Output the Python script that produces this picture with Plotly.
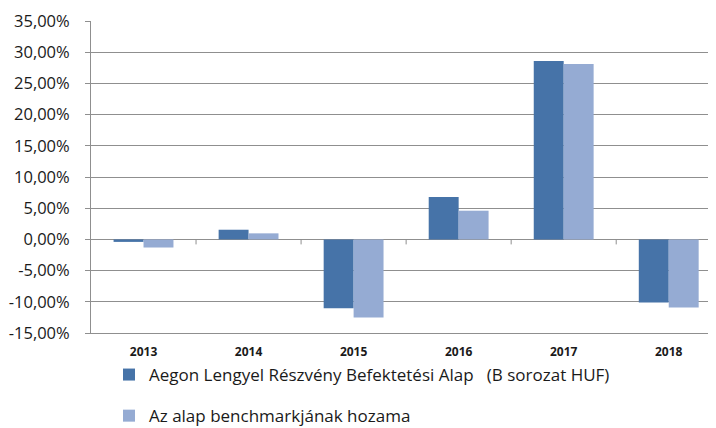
import plotly.graph_objects as go

years = ["2013", "2014", "2015", "2016", "2017", "2018"]
fund_name = "Aegon Lengyel Részvény Befektetési Alap\u00a0\u00a0\u00a0(B sorozat HUF)"
bench_name = "Az alap benchmarkjának hozama"
fund_returns = [-0.004, 0.0155, -0.1105, 0.068, 0.286, -0.101]
bench_returns = [-0.013, 0.0097, -0.125, 0.046, 0.281, -0.109]
y_tickvals = [-0.15, -0.10, -0.05, 0.0, 0.05, 0.10, 0.15, 0.20, 0.25, 0.30, 0.35]
y_ticktext = ["-15,00%", "-10,00%", "-5,00%", "0,00%", "5,00%", "10,00%",
              "15,00%", "20,00%", "25,00%", "30,00%", "35,00%"]
boundary_ticks = [0.5, 1.5, 2.5, 3.5, 4.5]

DARK = "#4673A8"
LIGHT = "#95ABD3"
GRID = "#8f8f8f"
FONT = "Open Sans"

fig = go.Figure()
fig.add_trace(go.Bar(x=years, y=fund_returns, name=fund_name,
                     marker=dict(color=DARK, line=dict(width=0)), legendgroup="a"))
fig.add_trace(go.Bar(x=years, y=bench_returns, name=bench_name,
                     marker=dict(color=LIGHT, line=dict(width=0)), legendgroup="b"))

# small boundary tick marks hanging below the zero line
for b in boundary_ticks:
    fig.add_shape(type="line", xref="x", yref="y", x0=b, x1=b,
                  ysizemode="pixel", yanchor=0, y0=0, y1=-5,
                  line=dict(color=GRID, width=1))

y_min, y_max = y_tickvals[0], y_tickvals[-1]

W, H = 708, 420  # page body has an 8px margin

fig.update_layout(
    width=W, height=H,
    margin=dict(l=83, r=0, t=13, b=95, autoexpand=False),
    paper_bgcolor="white", plot_bgcolor="white",
    barmode="group", bargap=0.43, bargroupgap=0,
    font=dict(family=FONT, color="#1a1a1a"),
    xaxis=dict(type="category", range=[-0.5, 5.45], showgrid=False,
               showline=True, linecolor=GRID, linewidth=1, ticks="",
               tickfont=dict(family=FONT, size=12, color="#1a1a1a", weight="bold"),
               ticklabelstandoff=8, zeroline=False, tickangle=0, automargin=False),
    yaxis=dict(range=[y_min, y_max], tickvals=y_tickvals, ticktext=y_ticktext,
               showgrid=True, gridcolor=GRID, gridwidth=1,
               zeroline=True, zerolinecolor=GRID, zerolinewidth=1,
               showline=True, linecolor=GRID, linewidth=1,
               ticks="outside", ticklen=5, tickcolor=GRID,
               tickfont=dict(family=FONT, size=16.5, color="#1a1a1a"),
               ticklabelstandoff=12, automargin=False),
    legend=dict(orientation="v", xref="container", yref="container",
                x=101 / W, y=1 - 349 / H, xanchor="left", yanchor="top",
                font=dict(family=FONT, size=17, color="#1a1a1a"),
                tracegroupgap=16, traceorder="grouped",
                bgcolor="rgba(0,0,0,0)"),
    showlegend=True,
)

fig.write_html("out.html")
